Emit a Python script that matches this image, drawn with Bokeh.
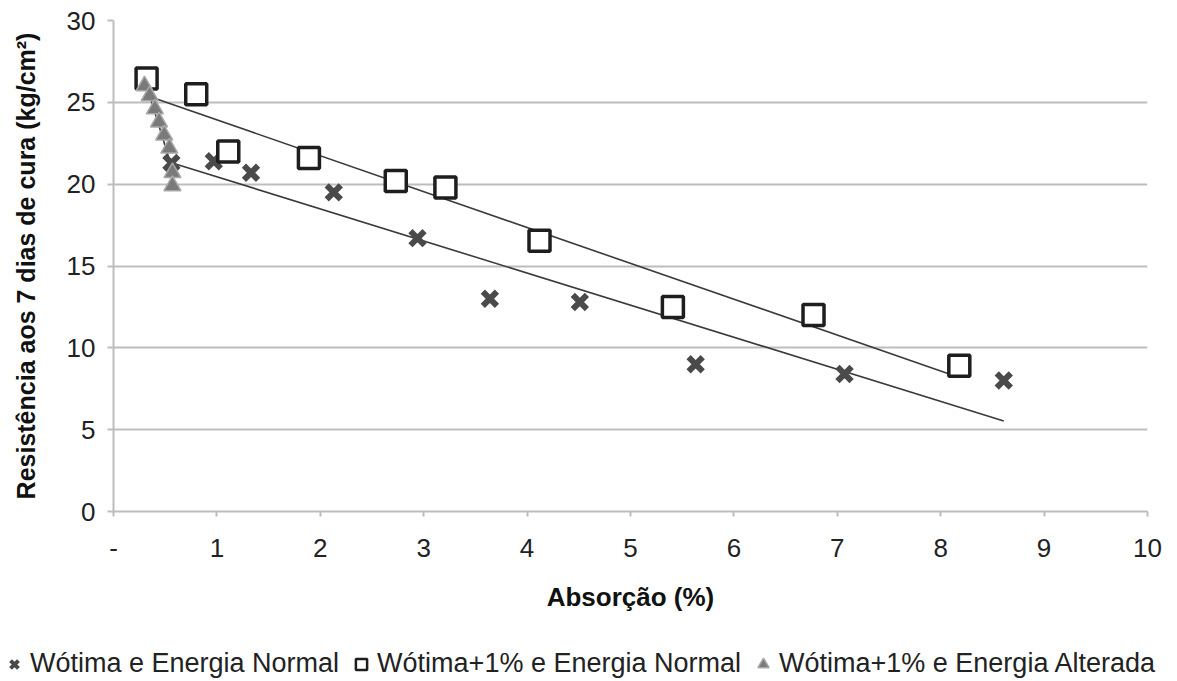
import numpy as np
from bokeh.plotting import figure
from bokeh.layouts import column, row
from bokeh.models import Legend, LegendItem, FixedTicker, Range1d
from bokeh.embed import file_html
from bokeh.resources import INLINE

# Series 1: Wótima e Energia Normal (X markers)
x_normal = [0.56, 0.97, 1.33, 2.13, 2.94, 3.64, 4.51, 5.63, 7.07, 8.61]
y_normal = [21.3, 21.4, 20.7, 19.5, 16.7, 13.0, 12.8, 9.0, 8.4, 8.0]

# Series 2: Wótima+1% e Energia Normal (squares)
x_plus1 = [0.32, 0.80, 1.11, 1.89, 2.73, 3.21, 4.12, 5.41, 6.77, 8.18]
y_plus1 = [26.45, 25.5, 22.0, 21.6, 20.2, 19.8, 16.55, 12.5, 12.0, 8.9]

# Series 3: Wótima+1% e Energia Alterada (triangles)
x_alt = [0.30, 0.35, 0.40, 0.44, 0.49, 0.54, 0.57, 0.57]
y_alt = [26.0, 25.4, 24.6, 23.8, 23.0, 22.2, 20.7, 19.9]

series_names = ["Wótima e Energia Normal",
                "Wótima+1% e Energia Normal",
                "Wótima+1% e Energia Alterada"]

x_ticks = [0, 1, 2, 3, 4, 5, 6, 7, 8, 9, 10]
x_tick_labels = ["-", "1", "2", "3", "4", "5", "6", "7", "8", "9", "10"]
y_ticks = [0, 5, 10, 15, 20, 25, 30]

FONT = "Liberation Sans"
FS = "26px"

X_STYLE = dict(marker="x", size=20, line_width=6, line_color="#4a4a4a")
SQ_STYLE = dict(marker="square", size=21, line_width=3.5,
                line_color="#1e1e1e", fill_color="white")
TR_STYLE = dict(marker="triangle", size=17, line_width=1.5,
                line_color="#a8a8a8", fill_color="#7a7a7a")

p = figure(width=1177, height=635, output_backend="svg", toolbar_location=None,
           x_range=Range1d(0, 10), y_range=Range1d(0, 30),
           min_border_left=113, min_border_right=30, min_border_top=20,
           min_border_bottom=124, background_fill_color="white",
           border_fill_color="white", outline_line_color=None)

# grid
p.xgrid.grid_line_color = None
p.ygrid.grid_line_color = "#bdbdbd"
p.ygrid.grid_line_width = 2
p.ygrid.ticker = FixedTicker(ticks=y_ticks)

# x axis
p.xaxis.ticker = FixedTicker(ticks=x_ticks)
p.xaxis.major_label_overrides = {t: l for t, l in zip(x_ticks, x_tick_labels)}
p.xaxis.axis_line_color = "#bdbdbd"
p.xaxis.axis_line_width = 2
p.xaxis.major_tick_line_color = "#bdbdbd"
p.xaxis.major_tick_line_width = 2
p.xaxis.major_tick_out = 5
p.xaxis.major_tick_in = 0
p.xaxis.minor_tick_line_color = None
p.xaxis.major_label_standoff = 22
p.xaxis.major_label_text_font = FONT
p.xaxis.major_label_text_font_size = FS
p.xaxis.major_label_text_color = "#222222"
p.xaxis.axis_label = "Absorção (%)"
p.xaxis.axis_label_text_font = FONT
p.xaxis.axis_label_text_font_size = FS
p.xaxis.axis_label_text_font_style = "bold"
p.xaxis.axis_label_text_color = "#111111"
p.xaxis.axis_label_standoff = 22

# y axis
p.yaxis.ticker = FixedTicker(ticks=y_ticks)
p.yaxis.axis_line_color = "#bdbdbd"
p.yaxis.axis_line_width = 2
p.yaxis.major_tick_line_color = "#bdbdbd"
p.yaxis.major_tick_line_width = 2
p.yaxis.major_tick_out = 6
p.yaxis.major_tick_in = 0
p.yaxis.minor_tick_line_color = None
p.yaxis.major_label_standoff = 12
p.yaxis.major_label_text_font = FONT
p.yaxis.major_label_text_font_size = FS
p.yaxis.major_label_text_color = "#222222"
p.yaxis.axis_label = "Resistência aos 7 dias de cura (kg/cm²)"
p.yaxis.axis_label_text_font = FONT
p.yaxis.axis_label_text_font_size = "25px"
p.yaxis.axis_label_text_font_style = "bold"
p.yaxis.axis_label_text_color = "#111111"
p.yaxis.axis_label_standoff = 24

# trend lines (linear fits of each series over its own x-range)
def trend(xs, ys):
    m, b = np.polyfit(xs, ys, 1)
    xx = np.array([min(xs), max(xs)])
    return xx, m * xx + b

for xs, ys in [(x_normal, y_normal), (x_plus1, y_plus1), (x_alt, y_alt)]:
    tx, ty = trend(xs, ys)
    p.line(tx, ty, line_color="#3a3a3a", line_width=1.6)

p.scatter(x_normal, y_normal, **X_STYLE)
p.scatter(x_plus1, y_plus1, **SQ_STYLE)
p.scatter(x_alt, y_alt, **TR_STYLE)

# legend strip below the chart (its keys sit outside the visible range)
lg = figure(width=1177, height=46, output_backend="svg", toolbar_location=None,
            x_range=Range1d(0, 1), y_range=Range1d(0, 1),
            min_border_left=0, min_border_right=0, min_border_top=0,
            min_border_bottom=0, outline_line_color=None,
            border_fill_color="white", background_fill_color="white")
lg.axis.visible = False
lg.grid.visible = False
k1 = lg.scatter([-5], [-5], marker="x", size=20, line_width=4,
                line_color="#4a4a4a")
k2 = lg.scatter([-5], [-5], marker="square", size=20, line_width=2.5,
                line_color="#1e1e1e", fill_color="white")
k3 = lg.scatter([-5], [-5], **TR_STYLE)

legend = Legend(items=[LegendItem(label=series_names[0], renderers=[k1]),
                       LegendItem(label=series_names[1], renderers=[k2]),
                       LegendItem(label=series_names[2], renderers=[k3])],
                orientation="horizontal", location=(0, 2),
                label_text_font=FONT, label_text_font_size="27px",
                label_text_color="#222222", border_line_color=None,
                background_fill_alpha=0, glyph_width=28, glyph_height=30,
                label_standoff=2, spacing=8, padding=0, margin=0)
lg.add_layout(legend, "center")

layout = column(p, row(lg), spacing=0)
open("out.html", "w").write(file_html(layout, INLINE))
